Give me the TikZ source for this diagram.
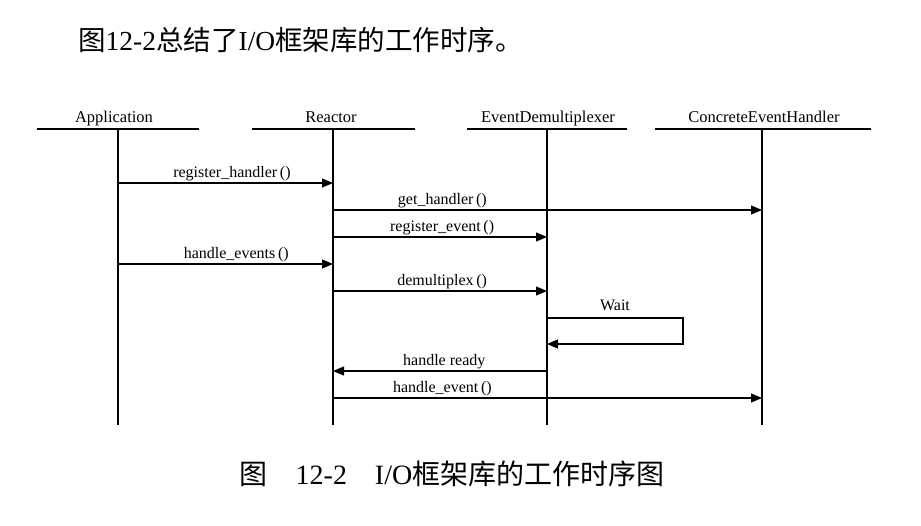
\documentclass[tikz,border=0pt]{standalone}
\usepackage{fontspec}
\setmainfont{Liberation Serif}
\newfontfamily\cjk{Noto Sans CJK SC}
\usetikzlibrary{arrows.meta}
\begin{document}
\begin{tikzpicture}[x=1pt,y=-1pt,
  life/.style={line width=1.2pt},
  msg/.style={line width=1.1pt,-{Triangle[length=11pt,width=9pt]}},
  lbl/.style={anchor=base,yshift=5.5pt,inner sep=0pt,font=\fontsize{16}{18}\selectfont},
  head/.style={anchor=base,inner sep=0pt,font=\fontsize{16.5}{18}\selectfont}]
\useasboundingbox (0,0) rectangle (921,526);

\node[anchor=west,inner sep=0pt,font=\fontsize{27.5}{30}\selectfont] (title) at (78,40)
  {{\cjk 图}12-2{\cjk 总结了}I/O{\cjk 框架库的工作时序。}};

\node[head] (app) at (114,122.5) {Application};
\node[head] (rea) at (331,122.5) {Reactor};
\node[head] (dem) at (548,122.5) {EventDemultiplexer};
\node[head] (ceh) at (764,122.5) {ConcreteEventHandler};

\coordinate (A) at (118,129);
\coordinate (R) at (333,129);
\coordinate (D) at (547,129);
\coordinate (C) at (762,129);

\draw[life] (37,129)--(199,129) (252,129)--(415,129) (467,129)--(627,129) (655,129)--(871,129);
\draw[life] (A)--++(0,296) (R)--++(0,296) (D)--++(0,296) (C)--++(0,296);

\draw[msg] (A |- 0,183) -- (R |- 0,183) node[lbl,pos=0.53] {register\_handler\,()};
\draw[msg] (R |- 0,210) -- (C |- 0,210) node[lbl,pos=0.255] {get\_handler\,()};
\draw[msg] (R |- 0,237) -- (D |- 0,237) node[lbl,pos=0.51] {register\_event\,()};
\draw[msg] (A |- 0,264) -- (R |- 0,264) node[lbl,pos=0.55] {handle\_events\,()};
\draw[msg] (R |- 0,291) -- (D |- 0,291) node[lbl,pos=0.51] {demultiplex\,()};

\coordinate (w1) at (D |- 0,318);
\coordinate (w2) at (D |- 0,344);
\draw[msg] (w1) -- ++(136,0) coordinate (w3) |- (w2);
\path (w1) -- (w3) node[lbl,midway,yshift=2pt] {Wait};

\draw[msg] (D |- 0,371) -- (R |- 0,371) node[lbl,pos=0.48] {handle ready};
\draw[msg] (R |- 0,398) -- (C |- 0,398) node[lbl,pos=0.255] {handle\_event\,()};

\node[inner sep=0pt,font=\fontsize{28}{30}\selectfont] (cap) at (452,474)
  {{\cjk 图}\quad 12-2\quad I/O{\cjk 框架库的工作时序图}};
\end{tikzpicture}
\end{document}
